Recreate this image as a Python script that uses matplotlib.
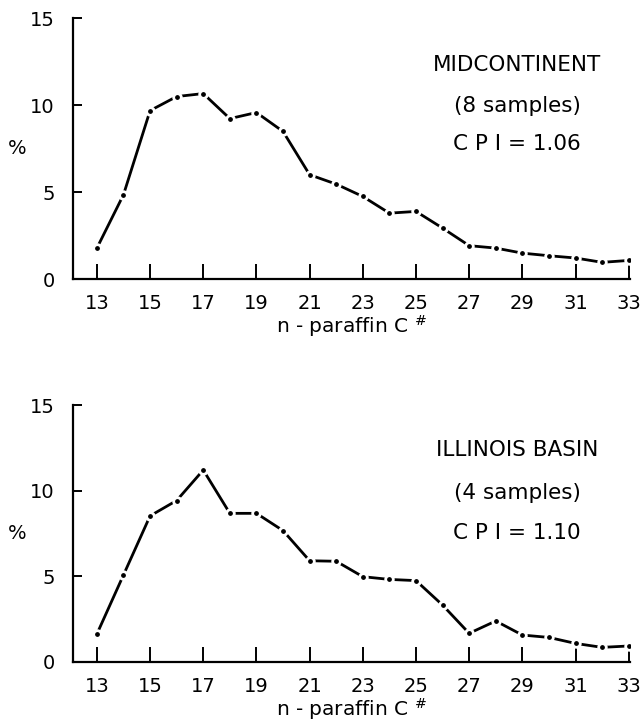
import matplotlib
matplotlib.use('Agg')
import matplotlib.pyplot as plt

plt.rcParams['font.family'] = ['DejaVu Sans']

# n-paraffin carbon numbers
carbon = list(range(13, 34))

# Midcontinent, 8 samples
mid_pct = [1.78, 4.85, 9.69, 10.5, 10.67, 9.23, 9.58, 8.49, 6.0, 5.46, 4.75,
           3.79, 3.89, 2.93, 1.92, 1.78, 1.49, 1.34, 1.21, 0.96, 1.07]

# Illinois Basin, 4 samples
ill_pct = [1.62, 5.07, 8.52, 9.42, 11.2, 8.67, 8.67, 7.66, 5.9, 5.87, 4.97,
           4.81, 4.74, 3.31, 1.66, 2.38, 1.56, 1.42, 1.07, 0.84, 0.92]

x_ticks = list(range(13, 34, 2))
y_ticks = [0, 5, 10, 15]

panels = [
    (mid_pct, ['MIDCONTINENT', '(8 samples)', 'C P I = 1.06']),
    (ill_pct, ['ILLINOIS BASIN', '(4 samples)', 'C P I = 1.10']),
]

fig = plt.figure(figsize=(6.44, 7.24), dpi=100)

# axes boxes in figure fraction: [left, bottom, width, height]
boxes = [[0.1129, 0.6146, 0.8654, 0.3601],
         [0.1129, 0.0860, 0.8654, 0.3546]]
# text rows (y in data units) for the annotation block
text_y = [[12.31, 9.95, 7.77], [12.37, 9.86, 7.52]]

for (vals, labels), box, ty in zip(panels, boxes, text_y):
    ax = fig.add_axes(box)
    ax.plot(carbon, vals, color='black', lw=2.0, marker='o', ms=5.5,
            mfc='black', mec='white', mew=2.0, solid_capstyle='butt')

    ax.set_xlim(12.09, 33.05)
    ax.set_ylim(0, 15)
    ax.set_xticks(x_ticks)
    ax.set_yticks(y_ticks)

    ax.spines['top'].set_visible(False)
    ax.spines['right'].set_visible(False)
    for s in ['left', 'bottom']:
        ax.spines[s].set_linewidth(1.6)

    ax.tick_params(axis='x', direction='in', length=11, width=1.4,
                   pad=11, labelsize=14)
    ax.tick_params(axis='y', direction='in', length=6.5, width=1.4,
                   pad=13, labelsize=14)

    ax.set_xlabel('n - paraffin C $^{\\#}$', fontsize=14.5, labelpad=0)
    ax.set_ylabel('%', fontsize=14, rotation=0, va='center', ha='center')
    ax.yaxis.set_label_coords(-0.1, 0.5)

    for txt, y in zip(labels, ty):
        ax.text(28.8, y, txt, ha='center', va='center', fontsize=15.5)

fig.savefig('out.png', dpi=100)
